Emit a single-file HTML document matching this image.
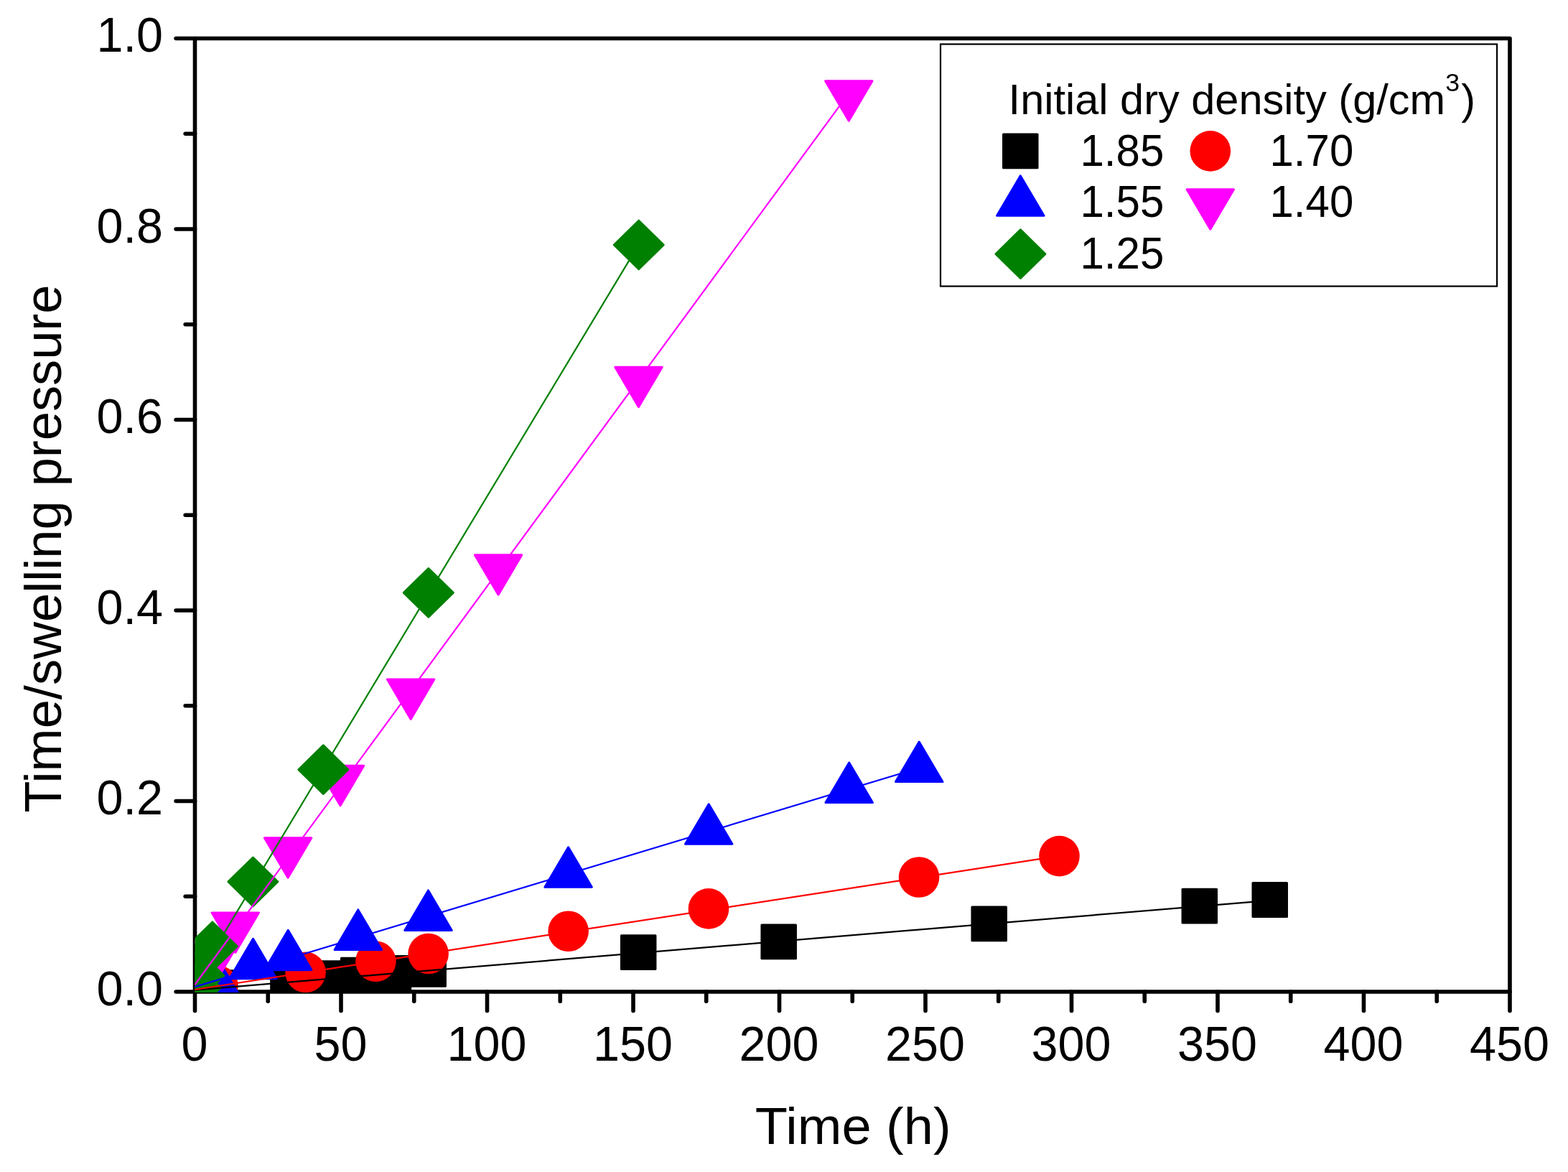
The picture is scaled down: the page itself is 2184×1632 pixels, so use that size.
<!DOCTYPE html>
<html lang="en"><head><meta charset="utf-8"><title>Time/swelling pressure vs Time (h)</title>
<style>html,body{margin:0;padding:0;background:#fff;}body{width:2184px;height:1632px;overflow:hidden;}svg{display:block;}text{font-family:'Liberation Sans', sans-serif;fill:#000;}</style>
</head><body>
<svg width="2184" height="1632" viewBox="0 0 2184 1632">
<rect x="0" y="0" width="2184" height="1632" fill="#fff"/>
<defs><clipPath id="plotclip"><rect x="271.40" y="53.50" width="1831.60" height="1328.50"/></clipPath></defs>
<g id="axes" stroke="#000" stroke-width="5.60" stroke-linecap="round" fill="none">
<path d="M271.50 53.50 H2103.00 V1381.00 H271.50 Z" stroke-linejoin="round"/>
<line x1="271.50" y1="1381.00" x2="271.50" y2="1407.40"/>
<line x1="373.25" y1="1381.00" x2="373.25" y2="1394.30"/>
<line x1="475.00" y1="1381.00" x2="475.00" y2="1407.40"/>
<line x1="576.75" y1="1381.00" x2="576.75" y2="1394.30"/>
<line x1="678.50" y1="1381.00" x2="678.50" y2="1407.40"/>
<line x1="780.25" y1="1381.00" x2="780.25" y2="1394.30"/>
<line x1="882.00" y1="1381.00" x2="882.00" y2="1407.40"/>
<line x1="983.75" y1="1381.00" x2="983.75" y2="1394.30"/>
<line x1="1085.50" y1="1381.00" x2="1085.50" y2="1407.40"/>
<line x1="1187.25" y1="1381.00" x2="1187.25" y2="1394.30"/>
<line x1="1289.00" y1="1381.00" x2="1289.00" y2="1407.40"/>
<line x1="1390.75" y1="1381.00" x2="1390.75" y2="1394.30"/>
<line x1="1492.50" y1="1381.00" x2="1492.50" y2="1407.40"/>
<line x1="1594.25" y1="1381.00" x2="1594.25" y2="1394.30"/>
<line x1="1696.00" y1="1381.00" x2="1696.00" y2="1407.40"/>
<line x1="1797.75" y1="1381.00" x2="1797.75" y2="1394.30"/>
<line x1="1899.50" y1="1381.00" x2="1899.50" y2="1407.40"/>
<line x1="2001.25" y1="1381.00" x2="2001.25" y2="1394.30"/>
<line x1="2103.00" y1="1381.00" x2="2103.00" y2="1407.40"/>
<line x1="271.50" y1="1381.00" x2="245.10" y2="1381.00"/>
<line x1="271.50" y1="1248.25" x2="258.20" y2="1248.25"/>
<line x1="271.50" y1="1115.50" x2="245.10" y2="1115.50"/>
<line x1="271.50" y1="982.75" x2="258.20" y2="982.75"/>
<line x1="271.50" y1="850.00" x2="245.10" y2="850.00"/>
<line x1="271.50" y1="717.25" x2="258.20" y2="717.25"/>
<line x1="271.50" y1="584.50" x2="245.10" y2="584.50"/>
<line x1="271.50" y1="451.75" x2="258.20" y2="451.75"/>
<line x1="271.50" y1="319.00" x2="245.10" y2="319.00"/>
<line x1="271.50" y1="186.25" x2="258.20" y2="186.25"/>
<line x1="271.50" y1="53.50" x2="245.10" y2="53.50"/>
</g>
<g id="xticklabels">
<text transform="translate(270.90 1476.50) scale(1.0000 1.0200)" font-size="66.50" text-anchor="middle">0</text>
<text transform="translate(474.40 1476.50) scale(1.0000 1.0200)" font-size="66.50" text-anchor="middle">50</text>
<text transform="translate(677.90 1476.50) scale(1.0000 1.0200)" font-size="66.50" text-anchor="middle">100</text>
<text transform="translate(881.40 1476.50) scale(1.0000 1.0200)" font-size="66.50" text-anchor="middle">150</text>
<text transform="translate(1084.90 1476.50) scale(1.0000 1.0200)" font-size="66.50" text-anchor="middle">200</text>
<text transform="translate(1288.40 1476.50) scale(1.0000 1.0200)" font-size="66.50" text-anchor="middle">250</text>
<text transform="translate(1491.90 1476.50) scale(1.0000 1.0200)" font-size="66.50" text-anchor="middle">300</text>
<text transform="translate(1695.40 1476.50) scale(1.0000 1.0200)" font-size="66.50" text-anchor="middle">350</text>
<text transform="translate(1898.90 1476.50) scale(1.0000 1.0200)" font-size="66.50" text-anchor="middle">400</text>
<text transform="translate(2102.40 1476.50) scale(1.0000 1.0200)" font-size="66.50" text-anchor="middle">450</text>
</g>
<g id="yticklabels">
<text transform="translate(227.00 1399.50) scale(1.0000 1.0200)" font-size="66.50" text-anchor="end">0.0</text>
<text transform="translate(227.00 1134.00) scale(1.0000 1.0200)" font-size="66.50" text-anchor="end">0.2</text>
<text transform="translate(227.00 868.50) scale(1.0000 1.0200)" font-size="66.50" text-anchor="end">0.4</text>
<text transform="translate(227.00 603.00) scale(1.0000 1.0200)" font-size="66.50" text-anchor="end">0.6</text>
<text transform="translate(227.00 337.50) scale(1.0000 1.0200)" font-size="66.50" text-anchor="end">0.8</text>
<text transform="translate(227.00 72.00) scale(1.0000 1.0200)" font-size="66.50" text-anchor="end">1.0</text>
</g>
<text id="xtitle" transform="translate(1188.20 1592.90) scale(1.0280 1.0000)" font-size="72.00" text-anchor="middle">Time (h)</text>
<text id="ytitle" transform="translate(84.90 764.20) rotate(-90) scale(1.0026 1.0000)" font-size="72.00" text-anchor="middle">Time/swelling pressure</text>
<g id="data" clip-path="url(#plotclip)">
<g id="s185"><rect x="280.35" y="1351.80" width="47.50" height="46.80" fill="#000000" stroke="#000000" stroke-width="3.0" stroke-linejoin="round"/><rect x="377.65" y="1344.10" width="47.50" height="46.80" fill="#000000" stroke="#000000" stroke-width="3.0" stroke-linejoin="round"/><rect x="426.85" y="1338.65" width="47.50" height="46.80" fill="#000000" stroke="#000000" stroke-width="3.0" stroke-linejoin="round"/><rect x="475.40" y="1334.25" width="47.50" height="46.80" fill="#000000" stroke="#000000" stroke-width="3.0" stroke-linejoin="round"/><rect x="524.20" y="1331.50" width="47.50" height="46.80" fill="#000000" stroke="#000000" stroke-width="3.0" stroke-linejoin="round"/><rect x="572.95" y="1326.45" width="47.50" height="46.80" fill="#000000" stroke="#000000" stroke-width="3.0" stroke-linejoin="round"/><rect x="865.45" y="1302.65" width="47.50" height="46.80" fill="#000000" stroke="#000000" stroke-width="3.0" stroke-linejoin="round"/><rect x="1060.95" y="1287.95" width="47.50" height="46.80" fill="#000000" stroke="#000000" stroke-width="3.0" stroke-linejoin="round"/><rect x="1353.95" y="1262.90" width="47.50" height="46.80" fill="#000000" stroke="#000000" stroke-width="3.0" stroke-linejoin="round"/><rect x="1647.05" y="1238.25" width="47.50" height="46.80" fill="#000000" stroke="#000000" stroke-width="3.0" stroke-linejoin="round"/><rect x="1745.00" y="1229.60" width="47.50" height="46.80" fill="#000000" stroke="#000000" stroke-width="3.0" stroke-linejoin="round"/></g>
<g id="s170"><circle cx="303.40" cy="1372.70" r="28.30" fill="#ff0000"/><circle cx="425.60" cy="1353.90" r="28.30" fill="#ff0000"/><circle cx="523.40" cy="1338.75" r="28.30" fill="#ff0000"/><circle cx="596.60" cy="1328.00" r="28.30" fill="#ff0000"/><circle cx="791.65" cy="1296.75" r="28.30" fill="#ff0000"/><circle cx="987.00" cy="1265.40" r="28.30" fill="#ff0000"/><circle cx="1280.06" cy="1221.50" r="28.30" fill="#ff0000"/><circle cx="1475.50" cy="1192.10" r="28.30" fill="#ff0000"/></g>
<g id="s155"><path d="M303.00 1334.40 L335.70 1389.90 L270.30 1389.90 Z" fill="#0000ff" stroke="#0000ff" stroke-width="3.0" stroke-linejoin="round"/><path d="M352.50 1307.25 L385.20 1362.75 L319.80 1362.75 Z" fill="#0000ff" stroke="#0000ff" stroke-width="3.0" stroke-linejoin="round"/><path d="M401.30 1295.30 L434.00 1350.80 L368.60 1350.80 Z" fill="#0000ff" stroke="#0000ff" stroke-width="3.0" stroke-linejoin="round"/><path d="M498.80 1266.90 L531.50 1322.40 L466.10 1322.40 Z" fill="#0000ff" stroke="#0000ff" stroke-width="3.0" stroke-linejoin="round"/><path d="M596.50 1239.90 L629.20 1295.40 L563.80 1295.40 Z" fill="#0000ff" stroke="#0000ff" stroke-width="3.0" stroke-linejoin="round"/><path d="M791.60 1179.70 L824.30 1235.20 L758.90 1235.20 Z" fill="#0000ff" stroke="#0000ff" stroke-width="3.0" stroke-linejoin="round"/><path d="M987.20 1119.70 L1019.90 1175.20 L954.50 1175.20 Z" fill="#0000ff" stroke="#0000ff" stroke-width="3.0" stroke-linejoin="round"/><path d="M1182.70 1062.10 L1215.40 1117.60 L1150.00 1117.60 Z" fill="#0000ff" stroke="#0000ff" stroke-width="3.0" stroke-linejoin="round"/><path d="M1280.20 1033.10 L1312.90 1088.60 L1247.50 1088.60 Z" fill="#0000ff" stroke="#0000ff" stroke-width="3.0" stroke-linejoin="round"/></g>
<g id="s140"><path d="M269.40 1309.00 L334.80 1309.00 L302.10 1364.50 Z" fill="#ff00ff" stroke="#ff00ff" stroke-width="3.0" stroke-linejoin="round"/><path d="M295.10 1271.06 L360.50 1271.06 L327.80 1326.56 Z" fill="#ff00ff" stroke="#ff00ff" stroke-width="3.0" stroke-linejoin="round"/><path d="M368.40 1166.80 L433.80 1166.80 L401.10 1222.30 Z" fill="#ff00ff" stroke="#ff00ff" stroke-width="3.0" stroke-linejoin="round"/><path d="M441.30 1066.35 L506.70 1066.35 L474.00 1121.85 Z" fill="#ff00ff" stroke="#ff00ff" stroke-width="3.0" stroke-linejoin="round"/><path d="M539.45 945.90 L604.85 945.90 L572.15 1001.40 Z" fill="#ff00ff" stroke="#ff00ff" stroke-width="3.0" stroke-linejoin="round"/><path d="M661.40 772.80 L726.80 772.80 L694.10 828.30 Z" fill="#ff00ff" stroke="#ff00ff" stroke-width="3.0" stroke-linejoin="round"/><path d="M856.80 511.30 L922.20 511.30 L889.50 566.80 Z" fill="#ff00ff" stroke="#ff00ff" stroke-width="3.0" stroke-linejoin="round"/><path d="M1149.60 112.75 L1215.00 112.75 L1182.30 168.25 Z" fill="#ff00ff" stroke="#ff00ff" stroke-width="3.0" stroke-linejoin="round"/></g>
<g id="s125"><path d="M272.80 1341.50 L307.30 1375.30 L272.80 1409.10 L238.30 1375.30 Z" fill="#008000" stroke="#008000" stroke-width="3.0" stroke-linejoin="round"/><path d="M277.40 1324.75 L311.90 1358.55 L277.40 1392.35 L242.90 1358.55 Z" fill="#008000" stroke="#008000" stroke-width="3.0" stroke-linejoin="round"/><path d="M295.85 1283.95 L330.35 1317.75 L295.85 1351.55 L261.35 1317.75 Z" fill="#008000" stroke="#008000" stroke-width="3.0" stroke-linejoin="round"/><path d="M352.40 1194.00 L386.90 1227.80 L352.40 1261.60 L317.90 1227.80 Z" fill="#008000" stroke="#008000" stroke-width="3.0" stroke-linejoin="round"/><path d="M450.30 1037.90 L484.80 1071.70 L450.30 1105.50 L415.80 1071.70 Z" fill="#008000" stroke="#008000" stroke-width="3.0" stroke-linejoin="round"/><path d="M596.80 791.60 L631.30 825.40 L596.80 859.20 L562.30 825.40 Z" fill="#008000" stroke="#008000" stroke-width="3.0" stroke-linejoin="round"/><path d="M889.75 307.20 L924.25 341.00 L889.75 374.80 L855.25 341.00 Z" fill="#008000" stroke="#008000" stroke-width="3.0" stroke-linejoin="round"/></g>
<g id="fits" fill="none" stroke-width="2.20" stroke-linecap="round">
<line x1="271.50" y1="1378.60" x2="1768.75" y2="1253.80" stroke="#000000"/>
<line x1="271.50" y1="1378.00" x2="1475.50" y2="1191.90" stroke="#ff0000"/>
<line x1="271.50" y1="1374.10" x2="1280.80" y2="1069.20" stroke="#0000ff"/>
<line x1="271.50" y1="1371.00" x2="1182.30" y2="129.90" stroke="#ff00ff"/>
<line x1="271.50" y1="1366.90" x2="889.75" y2="340.40" stroke="#008000"/>
</g>
</g>
<g id="legend">
<rect x="1310.00" y="61.50" width="775.10" height="337.10" fill="#fff" stroke="#000" stroke-width="2.2"/>
<text transform="translate(1404.60 159.00) scale(0.992 1)" font-size="60.0">Initial dry density (g/cm<tspan font-size="36.0" dy="-31.8">3</tspan><tspan dy="31.8" dx="2.2">)</tspan></text>
<rect x="1397.55" y="187.00" width="47.50" height="46.80" fill="#000000" stroke="#000000" stroke-width="3.0" stroke-linejoin="round"/>
<circle cx="1685.80" cy="210.35" r="28.30" fill="#ff0000"/>
<path d="M1421.30 244.80 L1454.00 300.30 L1388.60 300.30 Z" fill="#0000ff" stroke="#0000ff" stroke-width="3.0" stroke-linejoin="round"/>
<path d="M1653.10 263.70 L1718.50 263.70 L1685.80 319.20 Z" fill="#ff00ff" stroke="#ff00ff" stroke-width="3.0" stroke-linejoin="round"/>
<path d="M1421.40 319.90 L1455.90 353.70 L1421.40 387.50 L1386.90 353.70 Z" fill="#008000" stroke="#008000" stroke-width="3.0" stroke-linejoin="round"/>
<g>
<text transform="translate(1504.50 231.10) scale(1.0000 1.0450)" font-size="60.00" text-anchor="start">1.85</text>
<text transform="translate(1504.50 302.10) scale(1.0000 1.0450)" font-size="60.00" text-anchor="start">1.55</text>
<text transform="translate(1504.50 373.85) scale(1.0000 1.0450)" font-size="60.00" text-anchor="start">1.25</text>
<text transform="translate(1768.50 231.10) scale(1.0000 1.0450)" font-size="60.00" text-anchor="start">1.70</text>
<text transform="translate(1768.50 302.10) scale(1.0000 1.0450)" font-size="60.00" text-anchor="start">1.40</text>
</g></g>
</svg>
</body></html>
